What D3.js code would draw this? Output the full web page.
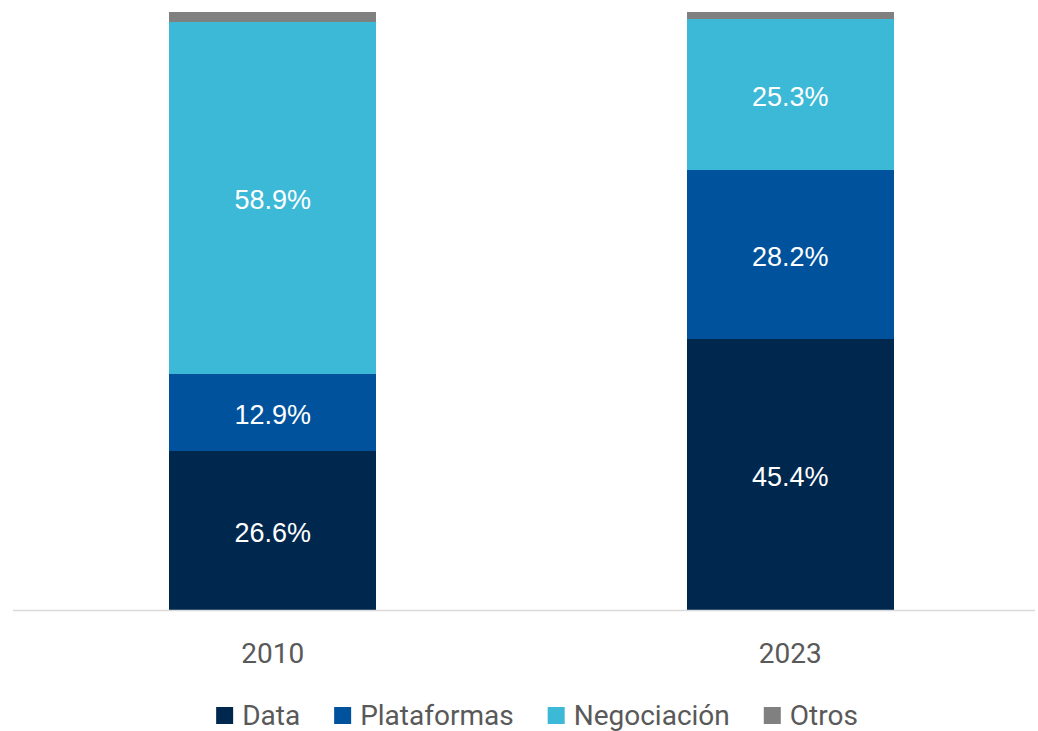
<!DOCTYPE html>
<html>
<head>
<meta charset="utf-8">
<script src="https://cdn.jsdelivr.net/npm/d3@7"></script>
<style>
  html, body { margin: 0; padding: 0; background: #fff; }
</style>
</head>
<body>
<script>
// data
const years = ['2010', '2023'];
const series = ['Data', 'Plataformas', 'Negociación', 'Otros'];
const dataValues = [26.6, 45.4];
const plataformasValues = [12.9, 28.2];
const negociacionValues = [58.9, 25.3];
const otrosValues = [1.6, 1.1];
const colors = ['#00284f', '#00529c', '#3db9d8', '#808080'];

let width = 1038,
    height = 731;

let svg = d3.select('body').append('svg')
    .attr('width', width)
    .attr('height', height);

let rows = years.map((y, i) => ({
    year: y,
    'Data': dataValues[i],
    'Plataformas': plataformasValues[i],
    'Negociación': negociacionValues[i],
    'Otros': otrosValues[i]
}));

let stacked = d3.stack().keys(series)(rows);

//scales
let xScale = d3.scaleBand()
    .domain(years)
    .range([14, 1049])
    .paddingInner(0.6)
    .paddingOuter(0.3);

let yScale = d3.scaleLinear()
    .domain([0, 100])
    .range([610, 12]);

let colorScale = d3.scaleOrdinal().domain(series).range(colors);

// bars
let layers = svg.selectAll('g.layer')
    .data(stacked)
    .enter().append('g')
    .attr('class', 'layer')
    .attr('fill', d => colorScale(d.key));

layers.selectAll('rect')
    .data(d => d)
    .enter().append('rect')
    .attr('x', d => xScale(d.data.year))
    .attr('y', d => yScale(d[1]))
    .attr('width', xScale.bandwidth())
    .attr('height', d => yScale(d[0]) - yScale(d[1]))
    .attr('shape-rendering', 'crispEdges');

// value labels (not for Otros)
layers.filter(d => d.key !== 'Otros')
    .selectAll('text')
    .data(d => d)
    .enter().append('text')
    .attr('x', d => xScale(d.data.year) + xScale.bandwidth() / 2)
    .attr('y', d => (yScale(d[0]) + yScale(d[1])) / 2)
    .attr('dy', '0.43em')
    .attr('text-anchor', 'middle')
    .attr('font-family', 'Liberation Sans, Arial, sans-serif')
    .attr('font-size', '27px')
    .attr('fill', '#ffffff')
    .text(d => (d[1] - d[0]).toFixed(1) + '%');

// axis line
svg.append('line')
    .attr('x1', 13)
    .attr('x2', 1035)
    .attr('y1', yScale(0) + 0.5)
    .attr('y2', yScale(0) + 0.5)
    .attr('stroke', '#d9d9d9')
    .attr('stroke-width', 1.5);

// category labels
let xAxis = d3.axisBottom(xScale).tickSize(0).tickPadding(0);
let axisG = svg.append('g')
    .attr('transform', `translate(0,${yScale(0)})`)
    .call(xAxis);
axisG.select('.domain').remove();
axisG.selectAll('text')
    .attr('y', 53)
    .attr('dy', 0)
    .attr('font-family', 'Roboto, sans-serif')
    .attr('font-size', '28px')
    .attr('fill', '#595959');

// legend
let legend = svg.append('g').attr('class', 'legend');
let items = legend.selectAll('g.item')
    .data(series)
    .enter().append('g')
    .attr('class', 'item');

items.append('rect')
    .attr('x', 0)
    .attr('y', 707)
    .attr('width', 17)
    .attr('height', 17)
    .attr('fill', d => colorScale(d));

items.append('text')
    .attr('x', 26)
    .attr('y', 725)
    .attr('font-family', 'Roboto, sans-serif')
    .attr('font-size', '28px')
    .attr('fill', '#595959')
    .text(d => d);

let offsets = [];
let pos = 0;
items.each(function() {
    offsets.push(pos);
    pos += 26 + this.querySelector('text').getComputedTextLength() + 34;
});
let total = pos - 34;
let startX = 537 - total / 2;
items.attr('transform', (d, i) => `translate(${startX + offsets[i]},0)`);
</script>
</body>
</html>
